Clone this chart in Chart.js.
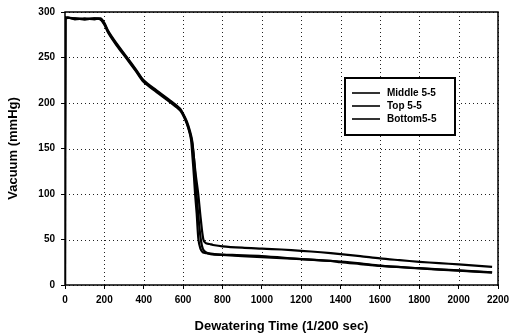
<!DOCTYPE html>
<html>
<head>
<meta charset="utf-8">
<script src="https://cdn.jsdelivr.net/npm/chart.js@4.4.0/dist/chart.umd.min.js"></script>
<style>
  html, body { margin: 0; padding: 0; background: #fff; }
  #wrap { width: 510px; height: 334px; position: relative; }
</style>
</head>
<body>
<div id="wrap"><canvas id="vacChart"></canvas></div>
<script>
// Axis ticks
const xTicks = [0, 200, 400, 600, 800, 1000, 1200, 1400, 1600, 1800, 2000, 2200];
const yTicks = [0, 50, 100, 150, 200, 250, 300];

// Series names (legend order)
const seriesNames = ['Middle 5-5', 'Top 5-5', 'Bottom5-5'];

// Middle 5-5 : drops last, stays highest in the tail
const middleTime = [0, 2, 50, 100, 150, 180, 200, 220, 260, 312, 360, 400, 465, 533, 584, 610, 627, 645, 655, 665, 677, 690, 703, 715, 735, 752, 800, 900, 1000, 1100, 1200, 1300, 1400, 1500, 1600, 1700, 1800, 1900, 2000, 2170];
const middleVac  = [0, 292, 293, 292, 293, 292, 287, 278, 265, 250, 236, 224, 213, 202, 193, 184, 175, 160, 140, 120, 100, 72, 50, 46, 45, 44, 42.5, 41, 40, 39, 37.6, 36, 34, 31.8, 29.2, 27.3, 25.5, 24, 22.7, 20];

// Top 5-5
const topTime = [0, 2, 50, 100, 150, 180, 200, 220, 260, 312, 360, 400, 465, 533, 584, 610, 627, 645, 655, 662, 668, 680, 690, 700, 715, 740, 800, 1000, 1200, 1350, 1400, 1500, 1600, 1800, 2000, 2170];
const topVac  = [0, 293, 292, 293, 292, 293, 288, 279, 266, 251, 237, 225, 214, 203, 194, 183, 173, 158, 140, 120, 100, 70, 50, 40, 36, 34, 33, 30.5, 28.5, 26.5, 25, 23, 21, 18.5, 16, 14];

// Bottom5-5 : drops first
const bottomTime = [0, 2, 50, 100, 150, 180, 200, 220, 260, 312, 360, 400, 465, 533, 584, 610, 627, 640, 648, 655, 661, 669, 678, 688, 700, 720, 760, 850, 1000, 1200, 1400, 1500, 1600, 1800, 2000, 2170];
const bottomVac  = [0, 292, 293, 292, 293, 292, 286, 277, 264, 249, 235, 223, 212, 201, 192, 182, 172, 160, 140, 120, 100, 79, 50, 40, 36, 35, 34, 33, 31.8, 28.5, 25.8, 23.8, 21.2, 18.3, 15.7, 13.5];

function toPoints(xs, ys) {
  return xs.map((x, i) => ({ x: x, y: ys[i] }));
}

const FONT = "'Liberation Sans', Arial, Helvetica, sans-serif";

// dotted grid drawn from the scales' own tick positions
const dottedGrid = {
  id: 'dottedGrid',
  beforeDatasetsDraw(chart) {
    const { ctx, chartArea: a, scales } = chart;
    ctx.save();
    ctx.strokeStyle = '#222';
    ctx.lineWidth = 1;
    ctx.setLineDash([1, 3]);
    scales.x.ticks.forEach(t => {
      const px = Math.round(scales.x.getPixelForValue(t.value)) + 0.5;
      ctx.beginPath();
      ctx.moveTo(px, a.top);
      ctx.lineTo(px, a.bottom);
      ctx.stroke();
    });
    scales.y.ticks.forEach(t => {
      const py = Math.round(scales.y.getPixelForValue(t.value)) + 0.5;
      ctx.beginPath();
      ctx.moveTo(a.left, py);
      ctx.lineTo(a.right, py);
      ctx.stroke();
    });
    ctx.restore();
  }
};

const frameAndLegend = {
  id: 'frameAndLegend',
  afterDatasetsDraw(chart) {
    const { ctx, chartArea: a } = chart;
    ctx.save();
    // plot frame
    ctx.strokeStyle = '#000';
    ctx.lineWidth = 1.5;
    ctx.strokeRect(a.left, a.top, a.right - a.left, a.bottom - a.top);

    // legend box
    const bx = 345, by = 78, bw = 110, bh = 57;
    ctx.fillStyle = '#fff';
    ctx.fillRect(bx, by, bw, bh);
    ctx.lineWidth = 2;
    ctx.strokeRect(bx, by, bw, bh);
    ctx.font = 'bold 10px ' + FONT;
    ctx.textBaseline = 'middle';
    ctx.fillStyle = '#000';
    chart.data.datasets.forEach((ds, i) => {
      const y = by + 15 + i * 13;
      ctx.beginPath();
      ctx.lineWidth = 1.6;
      ctx.moveTo(352, y);
      ctx.lineTo(380, y);
      ctx.stroke();
      ctx.fillText(ds.label, 387, y);
    });
    ctx.restore();
  }
};

const makeSet = (label, xs, ys) => ({
  label: label,
  data: toPoints(xs, ys),
  borderColor: '#000',
  borderWidth: 2.2,
  pointRadius: 0,
  tension: 0.3,
  fill: false
});

new Chart(document.getElementById('vacChart'), {
  type: 'line',
  data: {
    datasets: [
      makeSet(seriesNames[0], middleTime, middleVac),
      makeSet(seriesNames[1], topTime, topVac),
      makeSet(seriesNames[2], bottomTime, bottomVac)
    ]
  },
  options: {
    responsive: true,
    maintainAspectRatio: false,
    animation: false,
    layout: { padding: { left: 0, top: 11, right: 0, bottom: 0 } },
    plugins: {
      legend: { display: false },
      tooltip: { enabled: false }
    },
    scales: {
      x: {
        type: 'linear',
        min: 0,
        max: 2200,
        afterBuildTicks: (s) => { s.ticks = xTicks.map(v => ({ value: v })); },
        afterFit: (s) => { s.height = 49; s.paddingRight = 12; s.paddingLeft = 0; },
        grid: {
          drawOnChartArea: false,
          drawTicks: true,
          tickLength: 4,
          tickColor: '#000'
        },
        border: { display: false },
        ticks: {
          color: '#000',
          font: { family: FONT, size: 10, weight: 'bold' },
          padding: 5,
          maxRotation: 0,
          callback: (v) => String(v)
        },
        title: {
          display: true,
          text: 'Dewatering Time (1/200 sec)',
          color: '#000',
          font: { family: FONT, size: 13, weight: 'bold' },
          padding: { top: 4, bottom: 0 }
        }
      },
      y: {
        min: 0,
        max: 300,
        afterBuildTicks: (s) => { s.ticks = yTicks.map(v => ({ value: v })); },
        afterFit: (s) => { s.width = 65; },
        grid: {
          drawOnChartArea: false,
          drawTicks: true,
          tickLength: 4,
          tickColor: '#000'
        },
        border: { display: false },
        ticks: {
          color: '#000',
          font: { family: FONT, size: 10, weight: 'bold' },
          padding: 6,
          callback: (v) => String(v)
        },
        title: {
          display: true,
          text: 'Vacuum (mmHg)',
          color: '#000',
          font: { family: FONT, size: 13, weight: 'bold' },
          padding: { top: 6, bottom: 2 }
        }
      }
    }
  },
  plugins: [dottedGrid, frameAndLegend]
});
</script>
</body>
</html>
